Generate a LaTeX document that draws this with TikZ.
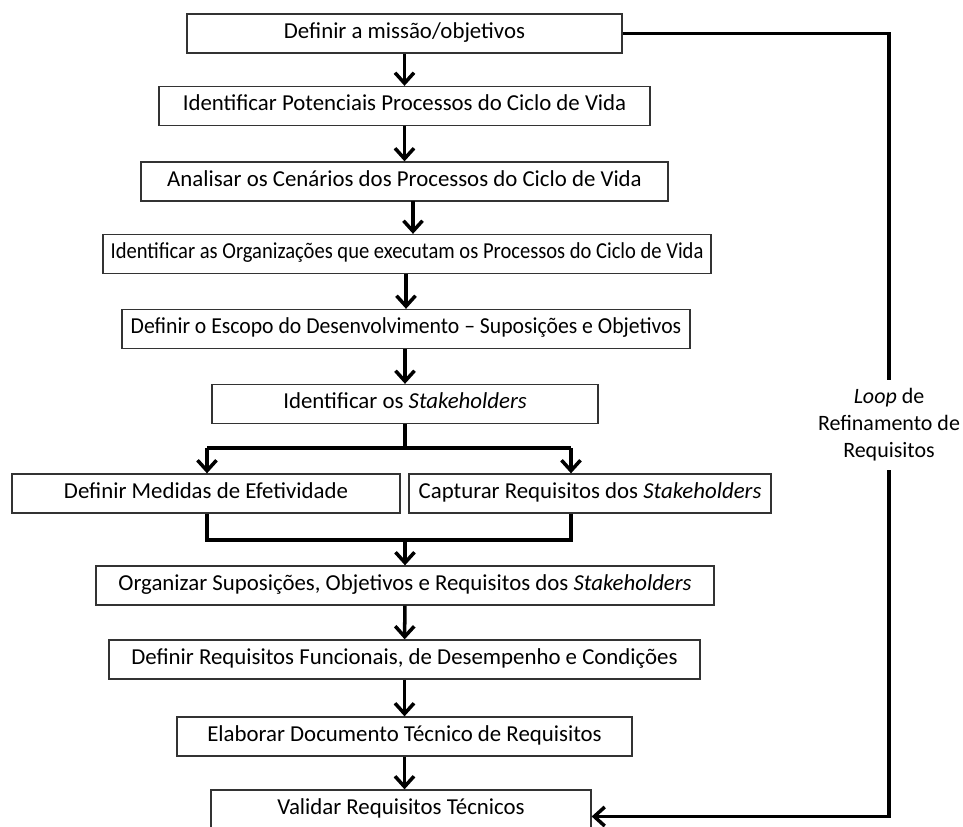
\documentclass[tikz,border=0pt]{standalone}
\usepackage{fontspec}
\usepackage{graphicx}
\setmainfont{Carlito}
\usetikzlibrary{arrows.meta}

% horizontally condensed text
\newcommand{\narrowtext}[2]{\scalebox{#1}[1]{#2}}

\begin{document}
\begin{tikzpicture}[
  x=0.02cm, y=-0.02cm,
  stepbox/.style={draw=black!80, line width=0.75pt, fill=white, inner sep=0pt,
                  minimum height=0.78cm, text height=9.6pt, text depth=4pt,
                  font=\fontsize{13}{15}\selectfont},
  flow/.style={line width=2pt, -{Straight Barb[length=2.1mm,width=3.8mm,line width=2pt]}},
  link/.style={line width=2pt},
]
\useasboundingbox (0,0) rectangle (963,827);

% main sequence of steps
\node[stepbox, minimum width=8.70cm]  (s1)  at (404.5,33.5)  {Definir a missão/objetivos};
\node[stepbox, minimum width=9.82cm]  (s2)  at (404.5,106)   {Identificar Potenciais Processos do Ciclo de Vida};
\node[stepbox, minimum width=10.54cm] (s3)  at (404.5,181.5) {Analisar os Cenários dos Processos do Ciclo de Vida};
\node[stepbox, minimum width=12.16cm] (s4)  at (407,254)     {\narrowtext{0.9}{Identificar as Organizações que executam os Processos do Ciclo de Vida}};
\node[stepbox, minimum width=11.36cm] (s5)  at (406,329)     {\narrowtext{0.95}{Definir o Escopo do Desenvolvimento -- Suposições e Objetivos}};
\node[stepbox, minimum width=7.72cm]  (s6)  at (405,404)     {Identificar os \textit{Stakeholders}};
\node[stepbox, minimum width=7.76cm]  (s7a) at (206,493.5)   {Definir Medidas de Efetividade};
\node[stepbox, minimum width=7.24cm]  (s7b) at (590,493.5)   {Capturar Requisitos dos \textit{Stakeholders}};
\node[stepbox, minimum width=12.36cm] (s8)  at (405,585.5)   {Organizar Suposições, Objetivos e Requisitos dos \textit{Stakeholders}};
\node[stepbox, minimum width=11.82cm] (s9)  at (404.5,659.5) {Definir Requisitos Funcionais, de Desempenho e Condições};
\node[stepbox, minimum width=9.10cm]  (s10) at (404.5,736.5) {Elaborar Documento Técnico de Requisitos};
\node[stepbox, minimum width=7.60cm]  (s11) at (401,809.5)   {Validar Requisitos Técnicos};

% straight arrows between consecutive steps
\coordinate (a3top) at (413,201.5);
\draw[flow] (s1) -- (s2);
\draw[flow] (s2) -- (s3);
\draw[flow] (a3top) -- (a3top |- s4.north);
\draw[flow] (s4.south -| s5) -- (s5);
\draw[flow] (s5.south -| s6) -- (s6);

% fork into the two parallel steps
\coordinate (fork)  at (405,448);
\coordinate (forkL) at (207,448);
\coordinate (forkR) at (571,448);
\draw[link] (s6.south) -- (fork);
\draw[link] (forkL) -- (forkR);
\draw[flow] (forkL) -- (forkL |- s7a.north);
\draw[flow] (forkR) -- (forkR |- s7b.north);

% join back into a single step
\coordinate (joinL) at (207,540);
\coordinate (joinR) at (571,540);
\coordinate (join)  at (405,540);
\draw[link] (joinL |- s7a.south) -- (joinL) -- (joinR) -- (joinR |- s7b.south);
\draw[flow] (join) -- (s8);

\draw[flow] (s8) -- (s9);
\draw[flow] (s9) -- (s10);
\draw[flow] (s10.south) -- (s10.south |- s11.north);

% refinement loop on the right
\coordinate (loopTop) at (889,33.5);
\coordinate (loopEnd) at ([yshift=-0.14cm]s11.east);
\draw[flow] (s1.east) -- (loopTop) -- (loopTop |- loopEnd) -- (loopEnd);
\node[fill=white, align=center, inner xsep=1pt, inner ysep=5pt,
      font=\fontsize{12.5}{15.3}\selectfont] (looplbl) at (889,425)
  {\textit{Loop} de\\Refinamento de\\Requisitos};
\end{tikzpicture}
\end{document}
